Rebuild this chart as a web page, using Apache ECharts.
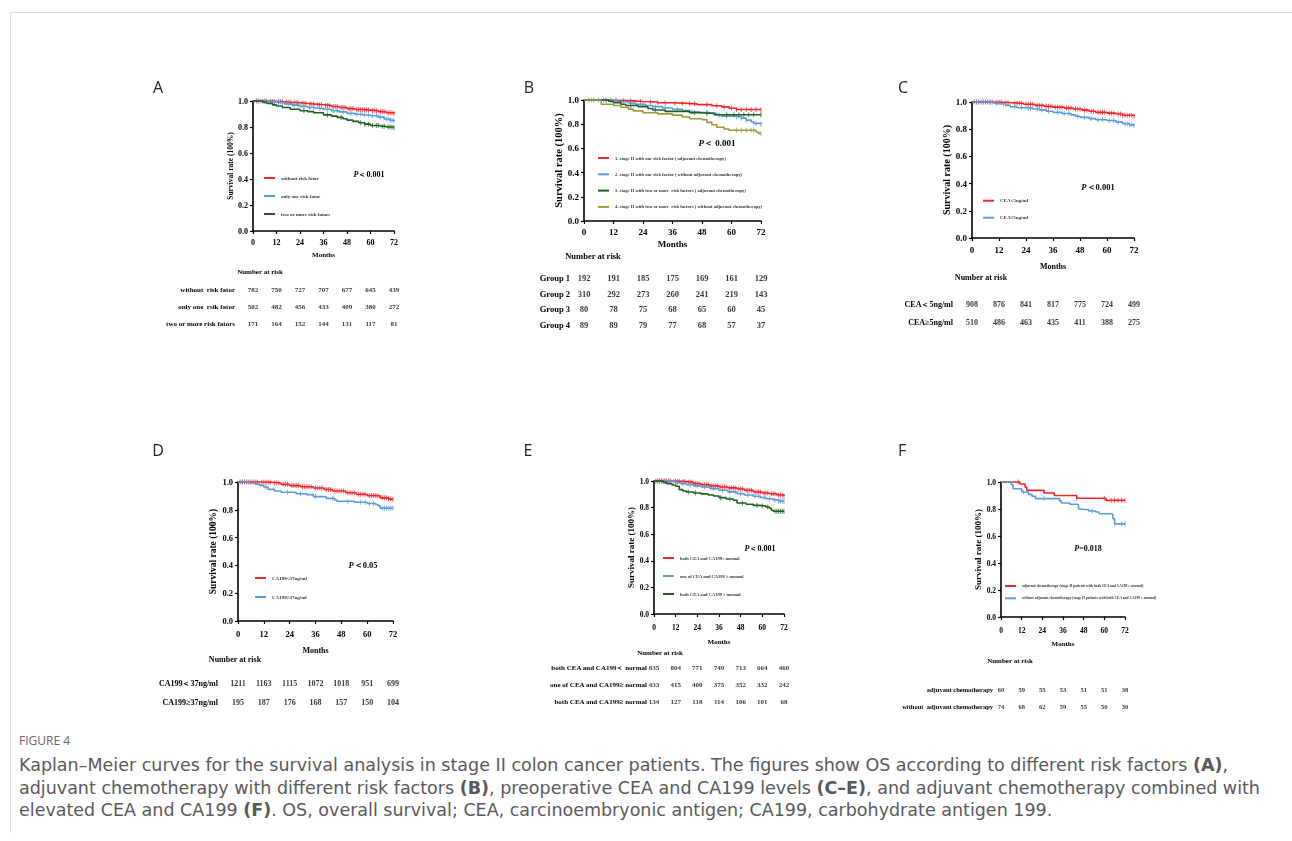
<!DOCTYPE html>
<html>
<head>
<meta charset="utf-8">
<script src="https://cdn.jsdelivr.net/npm/echarts@6.0.0/dist/echarts.min.js"></script>
<style>
  html, body { margin: 0; padding: 0; background: #fff; }
  #frame { position: absolute; left: 10px; top: 12px; width: 1282px; height: 820px; border-top: 1px solid #dedede; border-left: 1px solid #dedede; }
  #main { position: absolute; left: 0; top: 0; width: 1292px; height: 725px; will-change: transform; }
  #caption { position: absolute; left: 19px; top: 733px; color: #58595b; }
  #caption .fig { font-family: 'Open Sans', sans-serif; font-size: 12px; line-height: 16px; color: #666; }
  #caption .txt { font-family: 'DejaVu Sans', sans-serif; font-size: 17.5px; line-height: 22.5px; margin-top: 5px; white-space: nowrap; }
</style>
</head>
<body>
<div id="frame"></div>
<div id="main"></div>
<div id="caption">
  <div class="fig">FIGURE 4</div>
  <div class="txt">Kaplan–Meier curves for the survival analysis in stage II colon cancer patients. The figures show OS according to different risk factors <b>(A)</b>,<br>adjuvant chemotherapy with different risk factors <b>(B)</b>, preoperative CEA and CA199 levels <b>(C–E)</b>, and adjuvant chemotherapy combined with<br>elevated CEA and CA199 <b>(F)</b>. OS, overall survival; CEA, carcinoembryonic antigen; CA199, carbohydrate antigen 199.</div>
</div>
<script>
var xTicks = [0, 12, 24, 36, 48, 60, 72];

// ---- A: risk factors
var aNames = ['without risk fator', 'only one risk fator', 'two or more risk fators'];
var aRed = [[0,1],[4,0.999],[8,0.997],[12,0.994],[16,0.99],[20,0.986],[24,0.981],[28,0.976],[32,0.971],[36,0.966],[40,0.958],[44,0.95],[48,0.941],[52,0.935],[56,0.93],[60,0.925],[64,0.918],[68,0.91],[72,0.903]];
var aBlue = [[0,1],[4,0.998],[8,0.993],[12,0.988],[16,0.978],[20,0.968],[24,0.958],[28,0.95],[32,0.944],[36,0.937],[40,0.926],[44,0.916],[48,0.905],[52,0.898],[56,0.892],[60,0.886],[64,0.876],[67,0.862],[70,0.852],[72,0.846]];
var aGreen = [[0,1],[5,0.99],[7,0.982],[10,0.97],[12,0.962],[15,0.95],[19,0.936],[24,0.925],[28,0.918],[31,0.91],[36,0.893],[40,0.884],[43,0.874],[46,0.864],[48,0.853],[51,0.843],[54,0.833],[57,0.822],[60,0.812],[65,0.806],[68,0.8],[72,0.797]];
var aRedCens = [2,3,5,6,7,9,10,11,13,14,15,17,18,19,21,22,23,25,26,27,29,30,31,33,34,35,37,38,39,41,42,43,45,46,47,49,50,51,53,54,55,56,57,58,59,61,62,63,65,66,67,69,70,71,72];
var aBlueCens = [2,4,6,9,11,13,15,18,21,23,26,29,31,34,38,41,43,46,50,53,55,57,59,61,63,65,68,69,70,71,72];
var aGreenCens = [26,38,45,55,57,59,61,63,64,66,67,69,70,71,72];
var aRows = ['without  risk fator', 'only one  rsik fator', 'two or more risk fators'];
var aRisk = [[782,750,727,707,677,645,439],[502,482,456,433,409,380,272],[171,164,152,144,131,117,81]];

// ---- B: adjuvant chemotherapy by risk factors
var bNames = ['1. stage II with one risk factor ( adjuvant chemotherapy)', '2. stage II with one risk factor ( without adjuvant chemotherapy)', '3. stage II with two or more  risk factors ( adjuvant chemotherapy)', '4. stage II with two or more  risk factors ( without adjuvant chemotherapy)'];
var bRed = [[0,1],[9,0.997],[14,0.993],[20,0.988],[24,0.983],[30,0.977],[36,0.972],[42,0.968],[46,0.962],[52,0.953],[56,0.943],[59,0.932],[62,0.922],[72,0.917]];
var bBlue = [[0,1],[10,0.995],[14,0.986],[18,0.975],[21,0.964],[25,0.955],[28,0.945],[32,0.934],[36,0.923],[40,0.913],[43,0.903],[47,0.897],[51,0.89],[54,0.878],[56,0.867],[61,0.862],[64,0.85],[66,0.834],[68,0.82],[69,0.807],[72,0.798]];
var bGreen = [[0,1],[10,0.99],[12,0.978],[15,0.965],[17,0.955],[22,0.945],[26,0.93],[28,0.917],[33,0.906],[43,0.895],[47,0.89],[53,0.878],[72,0.878]];
var bOlive = [[0,1],[7,0.965],[12,0.955],[15,0.94],[18,0.925],[20,0.91],[24,0.895],[30,0.885],[36,0.875],[40,0.86],[43,0.845],[48,0.838],[50,0.815],[52,0.795],[54,0.775],[57,0.76],[59,0.75],[70,0.735],[71,0.724],[72,0.724]];
var bRedCens = [9,11,13,16,19,23,27,30,33,37,40,43,45,50,54,57,60,62,64,66,68,70,72];
var bBlueCens = [2,3,4,6,8,9,20,24,29,33,38,44,50,55,58,62,64,66,70,72];
var bGreenCens = [19,29,45,50,58,61,63,65,67,69,72];
var bOliveCens = [62,64,66,68,69,72];
var bRows = ['Group 1', 'Group 2', 'Group 3', 'Group 4'];
var bRisk = [[192,191,185,175,169,161,129],[310,292,273,260,241,219,143],[80,78,75,68,65,60,45],[89,89,79,77,68,57,37]];

// ---- C: CEA
var cNames = ['CEA<5ng/ml', 'CEA≥5ng/ml'];
var cRed = [[0,1],[10,0.998],[14,0.995],[18,0.99],[23,0.983],[28,0.975],[32,0.968],[36,0.962],[41,0.955],[45,0.948],[49,0.94],[52,0.932],[55,0.924],[60,0.918],[64,0.912],[67,0.903],[72,0.895]];
var cBlue = [[0,1],[6,0.997],[10,0.99],[12,0.985],[15,0.975],[17,0.965],[20,0.958],[23,0.955],[27,0.948],[30,0.942],[33,0.932],[36,0.924],[40,0.915],[44,0.905],[46,0.895],[48,0.887],[52,0.878],[55,0.87],[60,0.864],[64,0.852],[67,0.84],[70,0.832],[72,0.826]];
var cRedCens = [1,2,3,4,5,6,7,8,9,11,12,13,15,16,19,20,21,22,24,25,26,27,29,30,31,33,34,35,37,38,39,40,42,43,44,46,47,48,50,51,53,54,56,57,58,59,61,62,63,65,66,67,68,69,70,71,72];
var cBlueCens = [2,3,5,8,11,14,19,22,25,26,29,31,34,38,41,43,47,50,53,56,58,61,63,65,68,69,70,71,72];
var cRows = ['CEA＜5ng/ml', 'CEA≥5ng/ml'];
var cRisk = [[908,876,841,817,775,724,499],[510,486,463,435,411,388,275]];

// ---- D: CA199
var dNames = ['CA199<37ng/ml', 'CA199≥37ng/ml'];
var dRed = [[0,1],[10,0.998],[16,0.993],[20,0.983],[24,0.974],[29,0.966],[35,0.957],[40,0.946],[44,0.935],[50,0.923],[55,0.912],[60,0.902],[66,0.886],[70,0.877],[72,0.873]];
var dBlue = [[0,1],[5,0.993],[8,0.985],[10,0.976],[12,0.964],[14,0.947],[17,0.935],[20,0.926],[27,0.916],[32,0.909],[35,0.895],[41,0.882],[45,0.87],[46,0.862],[54,0.854],[60,0.845],[64,0.838],[65,0.83],[66,0.812],[72,0.812]];
var dRedCens = [1,2,3,4,5,6,7,8,9,11,12,13,14,15,17,18,19,21,22,23,25,26,27,28,30,31,32,33,34,36,37,38,39,41,42,43,45,46,47,48,49,51,52,53,54,56,57,58,59,61,62,63,64,65,67,68,69,70,71,72];
var dBlueCens = [2,4,13,23,29,36,44,51,57,59,61,63,67,68,69,70,71,72];
var dRows = ['CA199＜37ng/ml', 'CA199≥37ng/ml'];
var dRisk = [[1211,1163,1115,1072,1018,951,699],[195,187,176,168,157,150,104]];

// ---- E: CEA and CA199
var eNames = ['both CEA and CA199< normal', 'one of CEA and CA199 ≥ normal', 'both CEA and CA199 ≥ normal'];
var eRed = [[0,1],[10,0.998],[15,0.995],[18,0.99],[22,0.98],[26,0.972],[31,0.963],[36,0.955],[41,0.948],[46,0.94],[50,0.93],[55,0.917],[60,0.91],[64,0.904],[68,0.895],[72,0.887]];
var eBlue = [[0,1],[8,0.997],[12,0.988],[15,0.98],[18,0.972],[22,0.963],[26,0.955],[31,0.943],[36,0.93],[41,0.918],[46,0.905],[50,0.895],[55,0.885],[59,0.876],[62,0.867],[66,0.858],[69,0.85],[72,0.845]];
var eGreen = [[0,1],[5,0.99],[7,0.98],[10,0.97],[12,0.96],[14,0.935],[16,0.925],[18,0.917],[22,0.91],[26,0.903],[30,0.895],[33,0.887],[36,0.875],[40,0.865],[44,0.855],[46,0.835],[51,0.825],[55,0.817],[58,0.812],[62,0.805],[64,0.795],[65,0.78],[66,0.772],[72,0.772]];
var eRedCens = [1,2,3,4,5,6,7,8,9,11,12,13,14,16,17,19,20,21,23,24,25,27,28,29,30,32,33,34,35,37,38,39,40,42,43,44,45,47,48,49,51,52,53,54,56,57,58,59,61,62,63,65,66,67,69,70,71,72];
var eBlueCens = [2,4,6,9,13,16,20,24,28,33,38,42,45,48,52,56,58,61,64,67,69,70,71,72];
var eGreenCens = [19,23,37,42,49,57,60,63,67,68,69,70,71,72];
var eRows = ['both CEA and CA199＜ normal', 'one of CEA and CA199≥ normal', 'both CEA and CA199≥ normal'];
var eRisk = [[835,804,771,749,713,664,460],[433,415,400,375,352,332,242],[134,127,118,114,106,101,68]];

// ---- F: chemotherapy with elevated markers
var fNames = ['adjuvant chemotherapy (stage II patients with both CEA and CA199 ≥ normal)', 'without adjuvant chemotherapy (stage II patients with both CEA and CA199 ≥ normal)'];
var fRed = [[0,1],[11,0.985],[14,0.962],[15,0.938],[25,0.918],[31,0.9],[44,0.88],[61,0.864],[72,0.864]];
var fBlue = [[0,1],[6,0.98],[7,0.95],[12,0.926],[16,0.908],[18,0.894],[20,0.877],[34,0.86],[35,0.845],[40,0.835],[45,0.8],[46,0.795],[51,0.785],[55,0.778],[57,0.765],[64,0.76],[65,0.728],[66,0.69],[72,0.69]];
var fRedCens = [10,44,60,64,66,68,70,72];
var fBlueCens = [13,25,53,66,70,72];
var fRows = ['adjuvant chemotherapy', 'without  adjuvant chemotherapy'];
var fRisk = [[60,59,55,53,51,51,38],[74,68,62,59,55,50,30]];

var RED = '#f0262b', BLUE = '#5b9bd8', GREEN = '#1f5f22', OLIVE = '#9c9a38';
var SERIF = "'Liberation Serif', 'Times New Roman', serif";

var panels = [
	{
		label: 'A', lx: 158, ly: 87,
		grid: {left: 253, top: 101, width: 141, height: 130},
		tickSize: 8, xMargin: 7, yTitleSize: 7.5, yTitleGap: 0, monthsSize: 7, monthsGap: 20,
		names: aNames, curves: [aRed, aBlue, aGreen], cens: [aRedCens, aBlueCens, aGreenCens], colors: [RED, BLUE, GREEN],
		legend: {left: 264, top: 175, gap: 12, size: 5},
		p: {text: '{i|P}＜0.001', x: 369, y: 174, size: 8},
		risk: {top: 281.5, height: 51, margin: 18, size: 7, rows: aRows, values: aRisk},
		nar: {x: 260, y: 272, size: 7}
	},
	{
		label: 'B', lx: 529, ly: 87,
		grid: {left: 584, top: 100, width: 177, height: 121},
		tickSize: 9, xMargin: 6, yTitleSize: 10.5, yTitleGap: 0, monthsSize: 9, monthsGap: 18,
		names: bNames, curves: [bRed, bBlue, bGreen, bOlive], cens: [bRedCens, bBlueCens, bGreenCens, bOliveCens], colors: [RED, BLUE, GREEN, OLIVE],
		legend: {left: 598, top: 155, gap: 10.3, size: 4.6},
		p: {text: '{i|P}＜ 0.001', x: 717, y: 143, size: 9},
		risk: {top: 270, height: 63, margin: 14, size: 8.5, rows: bRows, values: bRisk},
		nar: {x: 593, y: 256, size: 8.5}
	},
	{
		label: 'C', lx: 903, ly: 87,
		grid: {left: 972, top: 102, width: 162, height: 136},
		tickSize: 9, xMargin: 7, yTitleSize: 10, yTitleGap: -1.5, monthsSize: 8, monthsGap: 24,
		names: cNames, curves: [cRed, cBlue], cens: [cRedCens, cBlueCens], colors: [RED, BLUE],
		legend: {left: 983, top: 197.7, gap: 11, size: 5},
		p: {text: '{i|P}＜0.001', x: 1098, y: 187, size: 8.5},
		risk: {top: 295, height: 36, margin: 19, size: 8, rows: cRows, values: cRisk},
		nar: {x: 981, y: 277, size: 8}
	},
	{
		label: 'D', lx: 158, ly: 450,
		grid: {left: 238, top: 482, width: 155, height: 139},
		tickSize: 8.5, xMargin: 8, yTitleSize: 9.5, yTitleGap: -1, monthsSize: 8, monthsGap: 25,
		names: dNames, curves: [dRed, dBlue], cens: [dRedCens, dBlueCens], colors: [RED, BLUE],
		legend: {left: 255, top: 575, gap: 13, size: 5},
		p: {text: '{i|P}＜0.05', x: 363, y: 565, size: 8.5},
		risk: {top: 673.5, height: 38, margin: 20, size: 8, rows: dRows, values: dRisk},
		nar: {x: 235, y: 659, size: 8}
	},
	{
		label: 'E', lx: 528, ly: 450,
		grid: {left: 654, top: 481, width: 130, height: 133},
		tickSize: 7.5, xMargin: 9, yTitleSize: 9, yTitleGap: -5, monthsSize: 7, monthsGap: 24,
		names: eNames, curves: [eRed, eBlue, eGreen], cens: [eRedCens, eBlueCens, eGreenCens], colors: [RED, BLUE, GREEN],
		legend: {left: 663, top: 555, gap: 12, size: 4.5},
		p: {text: '{i|P}＜0.001', x: 760, y: 548, size: 8},
		risk: {top: 659.5, height: 51, margin: 7, size: 7, rows: eRows, values: eRisk},
		nar: {x: 660, y: 653, size: 7}
	},
	{
		label: 'F', lx: 902, ly: 450,
		grid: {left: 1001, top: 482, width: 124, height: 135},
		tickSize: 7.5, xMargin: 9, yTitleSize: 9, yTitleGap: -5, monthsSize: 7, monthsGap: 23,
		names: fNames, curves: [fRed, fBlue], cens: [fRedCens, fBlueCens], colors: [RED, BLUE],
		legend: {left: 1005, top: 583, gap: 6.3, size: 3.6},
		p: {text: '{i|P}=0.018', x: 1088, y: 548, size: 8},
		risk: {top: 680.5, height: 34, margin: 8, size: 6.5, rows: fRows, values: fRisk},
		nar: {x: 1010, y: 661, size: 7}
	}
];

// survival value of a step curve at month t
function stepAt(curve, t) {
	var v = curve[0][1];
	for (var i = 0; i < curve.length; i++) {
		if (curve[i][0] <= t) v = curve[i][1];
	}
	return v;
}

var option = {
	animation: false,
	grid: [], xAxis: [], yAxis: [], series: [], legend: [], graphic: []
};

panels.forEach(function (p) {
	var gi = option.grid.length;
	option.grid.push({left: p.grid.left, top: p.grid.top, width: p.grid.width, height: p.grid.height});
	option.xAxis.push({
		gridIndex: gi, type: 'value', min: 0, max: 72, interval: 12,
		axisLine: {show: true, lineStyle: {color: '#000', width: 1.6}},
		axisTick: {show: true, length: 3, lineStyle: {color: '#000', width: 1.2}},
		splitLine: {show: false},
		axisLabel: {color: '#000', fontFamily: SERIF, fontWeight: 'bold', fontSize: p.tickSize, margin: p.xMargin},
		name: 'Months', nameLocation: 'middle', nameGap: p.monthsGap,
		nameTextStyle: {color: '#000', fontFamily: SERIF, fontWeight: 'bold', fontSize: p.monthsSize}
	});
	option.yAxis.push({
		gridIndex: gi, type: 'value', min: 0, max: 1, interval: 0.2,
		axisLine: {show: true, lineStyle: {color: '#000', width: 1.6}},
		axisTick: {show: true, length: 3, lineStyle: {color: '#000', width: 1.2}},
		splitLine: {show: false},
		axisLabel: {color: '#000', fontFamily: SERIF, fontWeight: 'bold', fontSize: p.tickSize, margin: 5,
			formatter: function (v) { return v.toFixed(1); }},
		name: 'Survival rate (100%)', nameLocation: 'middle', nameGap: p.yTitleGap + p.tickSize * 1.2,
		nameTextStyle: {color: '#000', fontFamily: SERIF, fontWeight: 'bold', fontSize: p.yTitleSize}
	});
	p.curves.forEach(function (c, k) {
		option.series.push({
			name: p.names[k], type: 'line', step: 'end', xAxisIndex: gi, yAxisIndex: gi,
			data: c, showSymbol: false, clip: false, color: p.colors[k],
			lineStyle: {width: 1.6, color: p.colors[k]}, z: 3 + k
		});
		option.series.push({
			name: p.label + '-censor-' + k, type: 'scatter', xAxisIndex: gi, yAxisIndex: gi,
			data: p.cens[k].map(function (t) { return [t, stepAt(c, t)]; }),
			symbol: 'rect', symbolSize: [1, 5], clip: false,
			itemStyle: {color: p.colors[k], opacity: 0.75}, z: 3 + k
		});
	});
	option.legend.push({
		orient: 'vertical', left: p.legend.left, top: p.legend.top, padding: 0,
		itemGap: p.legend.gap, itemWidth: 11, itemHeight: 2, icon: 'rect',
		selectedMode: false, data: p.names,
		textStyle: {fontFamily: SERIF, fontWeight: 'bold', fontSize: p.legend.size, lineHeight: 6, color: '#333', padding: [0, 0, 0, 1]}
	});

	// number-at-risk table, aligned with the month ticks
	var ri = option.grid.length;
	option.grid.push({left: p.grid.left, top: p.risk.top, width: p.grid.width, height: p.risk.height});
	option.xAxis.push({gridIndex: ri, type: 'value', min: 0, max: 72, show: false});
	option.yAxis.push({
		gridIndex: ri, type: 'category', data: p.risk.rows, inverse: true,
		axisLine: {show: false}, axisTick: {show: false}, splitLine: {show: false},
		axisLabel: {color: '#000', fontFamily: SERIF, fontWeight: 'bold', fontSize: p.risk.size, margin: p.risk.margin}
	});
	var cells = [];
	p.risk.values.forEach(function (row, r) {
		row.forEach(function (v, j) { cells.push([xTicks[j], p.risk.rows[r], v]); });
	});
	option.series.push({
		name: p.label + '-risk', type: 'scatter', xAxisIndex: ri, yAxisIndex: ri,
		data: cells, symbolSize: 1, itemStyle: {color: 'transparent'},
		label: {show: true, position: [0.5, 0.5], align: 'center', verticalAlign: 'middle', color: '#000',
			fontFamily: SERIF, fontWeight: 'bold', fontSize: p.risk.size,
			formatter: function (d) { return d.value[2]; }}
	});

	option.graphic.push({
		type: 'text', x: p.lx, y: p.ly,
		style: {text: p.label, font: "16px 'Open Sans', sans-serif", fill: '#222', textAlign: 'center', textVerticalAlign: 'middle'}
	});
	option.graphic.push({
		type: 'text', x: p.nar.x, y: p.nar.y,
		style: {text: 'Number at risk', fontFamily: SERIF, fontWeight: 'bold', fontSize: p.nar.size, fill: '#000', textAlign: 'center', textVerticalAlign: 'middle'}
	});
	option.graphic.push({
		type: 'text', x: p.p.x, y: p.p.y,
		style: {
			text: p.p.text, fontFamily: SERIF, fontWeight: 'bold', fontSize: p.p.size, fill: '#000', textAlign: 'center', textVerticalAlign: 'middle',
			rich: {i: {fontFamily: SERIF, fontStyle: 'italic', fontWeight: 'bold', fontSize: p.p.size, fill: '#000'}}
		}
	});
});

var chart = echarts.init(document.getElementById('main'), null, {renderer: 'svg'});
chart.setOption(option);
</script>
</body>
</html>
